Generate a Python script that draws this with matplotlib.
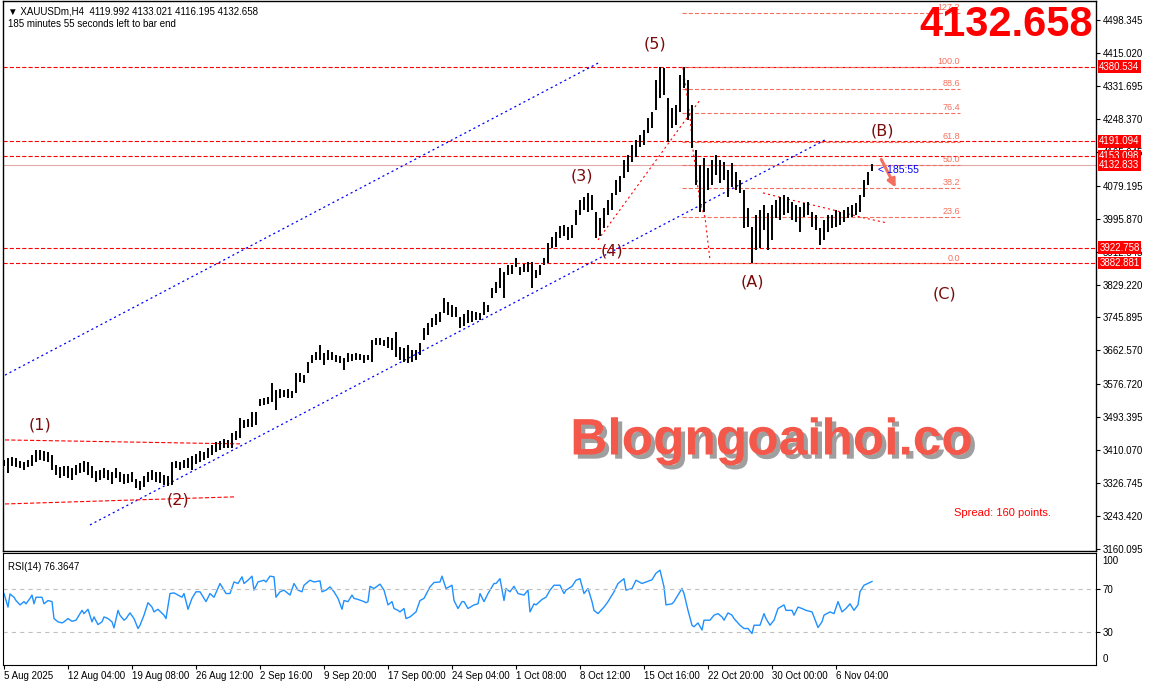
import matplotlib
matplotlib.use("Agg")
import matplotlib.pyplot as plt
import matplotlib.patheffects as pe
import matplotlib.transforms as mtrans
import numpy as np

plt.rcParams['font.family'] = ['Liberation Sans', 'DejaVu Sans']
plt.rcParams['lines.scale_dashes'] = False

# ---- price data (one bar = two H4 candles) ----
highs = [
    3385, 3390, 3393, 3390, 3383, 3380, 3385, 3398, 3411, 3411,
    3408, 3405, 3398, 3373, 3368, 3370, 3370, 3365, 3373, 3378,
    3383, 3380, 3370, 3357, 3360, 3365, 3360, 3355, 3365, 3355,
    3350, 3350, 3355, 3337, 3332, 3345, 3355, 3360, 3355, 3355,
    3347, 3345, 3380, 3383, 3380, 3385, 3390, 3395, 3400, 3408,
    3405, 3416, 3423, 3431, 3433, 3438, 3436, 3454, 3459, 3492,
    3486, 3489, 3507, 3507, 3540, 3542, 3545, 3580, 3562, 3565,
    3562, 3565, 3560, 3605, 3605, 3600, 3633, 3651, 3658, 3676,
    3656, 3664, 3658, 3651, 3648, 3643, 3656, 3653, 3656, 3653,
    3651, 3651, 3689, 3694, 3694, 3689, 3696, 3694, 3709, 3671,
    3669, 3676, 3664, 3664, 3681, 3719, 3732, 3745, 3755, 3760,
    3795, 3785, 3777, 3772, 3747, 3755, 3765, 3762, 3760, 3757,
    3785, 3777, 3820, 3836, 3871, 3861, 3879, 3879, 3896, 3874,
    3881, 3886, 3886, 3866, 3879, 3896, 3934, 3949, 3962, 3977,
    3980, 3975, 3980, 4018, 4043, 4051, 4061, 4056, 4013, 3998,
    4023, 4043, 4061, 4094, 4104, 4144, 4157, 4182, 4195, 4208,
    4220, 4251, 4266, 4347, 4380, 4377, 4301, 4276, 4283, 4359,
    4380, 4347, 4283, 4170, 4132, 4149, 4124, 4144, 4157, 4144,
    4139, 4119, 4137, 4114, 4094, 4068, 4023, 3975, 4005, 4018,
    4030, 4010, 4030, 4043, 4051, 4056, 4051, 4038, 4030, 4025,
    4035, 4038, 4013, 4005, 3972, 3992, 4005, 4005, 4018, 4013,
    4018, 4025, 4030, 4035, 4056, 4094, 4114, 4134]
lows = [
    3370, 3352, 3370, 3368, 3365, 3360, 3368, 3370, 3380, 3385,
    3383, 3380, 3360, 3347, 3340, 3345, 3340, 3335, 3347, 3352,
    3355, 3347, 3340, 3330, 3335, 3340, 3335, 3325, 3340, 3330,
    3325, 3327, 3330, 3314, 3309, 3317, 3330, 3335, 3330, 3327,
    3322, 3319, 3322, 3365, 3360, 3365, 3365, 3360, 3375, 3380,
    3385, 3390, 3398, 3405, 3411, 3416, 3416, 3416, 3436, 3441,
    3466, 3469, 3469, 3474, 3522, 3524, 3527, 3532, 3512, 3542,
    3545, 3542, 3542, 3555, 3583, 3580, 3605, 3631, 3638, 3638,
    3626, 3638, 3638, 3633, 3631, 3613, 3633, 3636, 3638, 3638,
    3631, 3638, 3633, 3676, 3676, 3674, 3669, 3664, 3646, 3638,
    3633, 3631, 3633, 3638, 3651, 3689, 3701, 3722, 3727, 3734,
    3757, 3752, 3747, 3747, 3719, 3724, 3732, 3734, 3739, 3739,
    3752, 3760, 3795, 3808, 3820, 3795, 3853, 3856, 3874, 3853,
    3861, 3861, 3820, 3846, 3853, 3879, 3884, 3922, 3924, 3947,
    3952, 3942, 3947, 3980, 4005, 4018, 4013, 4018, 3947, 3952,
    3972, 4005, 4018, 4056, 4063, 4099, 4114, 4139, 4152, 4177,
    4182, 4213, 4225, 4271, 4301, 4309, 4190, 4225, 4233, 4266,
    4326, 4245, 4175, 4081, 4013, 4013, 4068, 4081, 4106, 4086,
    4094, 4051, 4076, 4068, 4061, 3972, 3975, 3883, 3917, 3922,
    3967, 3917, 3942, 3998, 3992, 4005, 4010, 3992, 3987, 3962,
    4000, 4005, 3975, 3967, 3929, 3942, 3962, 3972, 3975, 3980,
    3987, 3998, 4000, 4005, 4013, 4051, 4081, 4116]

# RSI(14): (H4 bar index, value)
rsi_bar = [0, 2, 3, 5, 6, 8, 10, 11, 13, 14, 15, 16, 19, 20, 22, 24, 25, 27, 29, 30,
           32, 34, 36, 39, 40, 42, 44, 45, 47, 49, 50, 52, 54, 55, 57, 58, 60, 61, 63, 65,
           67, 68, 70, 72, 74, 75, 77, 80, 81, 83, 85, 87, 89, 90, 92, 94, 96, 98, 100, 101,
           103, 105, 108, 110, 111, 113, 115, 117, 119, 120, 122, 124, 125, 127, 130, 131, 133, 135, 136, 138,
           140, 143, 145, 147, 149, 150, 153, 155, 158, 159, 161, 163, 165, 167, 169, 170, 172, 174, 175, 177,
           180, 181, 182, 183, 185, 188, 190, 192, 194, 195, 197,
           198, 200, 201, 203, 205, 206, 208, 210, 213, 215, 218, 219, 221, 224, 225, 227, 229, 230, 232, 235,
           237, 238, 240, 242, 245, 246, 248, 250, 251, 253, 255, 257, 260, 262, 263, 265, 266, 269, 271, 273,
           275, 278, 280, 281, 284, 286, 288, 290, 292, 294, 295, 297, 300, 302, 305, 307, 310, 311, 314, 316,
           319, 321, 324, 326, 328, 330, 331, 334, 335, 337, 339, 340, 342, 344, 345, 347, 349, 350, 353, 355,
           357, 359, 360, 362, 364, 365, 368, 370, 372, 374, 375, 378, 380, 381, 383, 385, 387, 390, 391, 394,
           395, 397, 399, 401, 404, 405, 407, 409, 410, 413, 415, 417, 419, 421, 423, 425, 427, 428, 430, 434]
rsi_val = [65.4, 53, 65, 62, 59, 55, 58, 56, 61, 64, 56, 62, 62, 56, 59, 58, 42.5, 39.5, 38.5, 39.5,
           42.5, 40, 41, 50, 47, 51, 39.5, 44, 37, 39.5, 44, 42.5, 39.5, 34, 50, 45.5, 41, 42.5, 47.7, 42.5,
           33.4, 36.4, 45.6, 57, 53, 48.6, 51, 45.6, 42.5, 65.4, 66, 64, 62, 65.4, 51, 61, 67, 67, 61, 58,
           65.4, 62, 74.6, 68.5, 65.4, 65.4, 76, 74.6, 80.7, 74.6, 77.6, 81.3, 68.5, 76, 77.6, 76, 81.3, 80.7, 62, 67,
           68.5, 64, 74.6, 68.5, 67, 73, 77.6, 76, 77, 67, 68.5, 71.5, 67, 61, 51, 59, 58, 64, 61, 60,
           58, 57, 58, 72, 70, 74, 68.5, 55, 58, 51.7, 50,
           48.6, 51.7, 42.5, 44, 47, 48.6, 59, 61, 71.5, 75.5, 76, 81.3, 70, 73, 59, 51.7, 58, 58, 51.7, 55,
           56, 65.4, 58, 65.4, 74.6, 74.6, 79, 59, 70, 67, 72, 65.4, 64, 68.5, 48.6, 56, 55, 60, 62, 68.5,
           73, 73, 65.4, 68.5, 72, 77.6, 79, 65.4, 70, 58, 50, 47, 53, 58, 67, 74.6, 79, 68.5, 70, 77.6,
           74.6, 76, 78, 84, 86.8, 71.5, 55, 56, 58, 64, 70, 65.4, 50, 36.4, 35, 38.5, 32, 41, 41, 45.6,
           47, 44, 41, 47.7, 45.6, 42.5, 36.4, 33.4, 33.4, 28.8, 36.4, 36.4, 47, 42.5, 36.4, 41, 51.7, 55, 50, 50,
           45.6, 53, 51.7, 50, 48.6, 44, 34.3, 39.5, 45.6, 48.6, 47, 58, 48.6, 51.7, 56, 50, 55, 67, 73, 76.4]

price_ticks = [4498.345, 4415.020, 4331.695, 4248.370, 4165.045, 4079.195, 3995.870,
               3912.545, 3829.220, 3745.895, 3662.570, 3576.720, 3493.395, 3410.070,
               3326.745, 3243.420, 3160.095]
date_labels = ["5 Aug 2025", "12 Aug 04:00", "19 Aug 08:00", "26 Aug 12:00", "2 Sep 16:00",
               "9 Sep 20:00", "17 Sep 00:00", "24 Sep 04:00", "1 Oct 08:00", "8 Oct 12:00",
               "15 Oct 16:00", "22 Oct 20:00", "30 Oct 00:00", "6 Nov 04:00"]
hlines = [4380.534, 4191.094, 4153.098, 3922.758, 3882.881]
red_labels = [4380.534, 4191.094, 4153.098, 4132.833, 3922.758, 3882.881]
bid = 4132.658
fib_high, fib_low = 4380.534, 3882.881
fib_ratios = [0.0, 23.6, 38.2, 50.0, 61.8, 76.4, 88.6, 100.0, 127.2]
fib_from, fib_to = 339, 478

# trend / wave lines (bar index, price)
blue_upper = ([0.5, 298], [3600, 4392])
blue_lower = ([43, 410.5], [3221, 4195])
w1_top = ([0.5, 118], [3436, 3426])
w1_bottom = ([0.5, 115.5], [3274, 3292])
w4_line = ([297, 348], [3942, 4296])
drop_line = ([339.5, 343, 344.5, 348, 350.5, 353], [4377, 4253, 4170, 4035, 4000, 3891])
tri_line = ([379.5, 389.5, 398, 414.5, 428, 441.5], [4061, 4048, 4038, 4018, 4000, 3985])
waves = ["(1)", "(2)", "(3)", "(4)", "(5)", "(A)", "(B)", "(C)"]
wave_bar = [18, 87, 289, 304, 325.5, 374, 439, 470]
wave_price = [3474, 3284, 4104, 3914, 4438, 3835, 4217, 3805]

W, H = 1149, 690
fig = plt.figure(figsize=(W / 100, H / 100), dpi=100)
ax = fig.add_axes([3 / W, (H - 551) / H, 1093 / W, 550 / H])
rsi_ax = fig.add_axes([3 / W, (H - 665) / H, 1093 / W, 112 / H])

bars = np.arange(len(highs)) * 2
ax.vlines(bars, lows, highs, color='black', lw=1.4, zorder=3)

dash = (0, (3.0, 1.5))
dot = (0, (1.5, 2.2))
for lv in hlines:
    ax.axhline(lv, color='#FF0000', lw=0.8, ls=dash, zorder=2)
ax.axhline(bid, color='#E0A8A8', lw=0.8, zorder=2)

for r in fib_ratios:
    lv = fib_low + (fib_high - fib_low) * r / 100
    ax.plot([fib_from, fib_to], [lv, lv], color='#F4705E', lw=0.8, ls=dash, zorder=2)
    ax.text(fib_to, lv + 2, f"{r:.1f}", color='#F4705E', fontsize=6.5, ha='right', va='bottom')

ax.plot(*blue_upper, color='#0000FF', lw=0.9, ls=dot)
ax.plot(*blue_lower, color='#0000FF', lw=0.9, ls=dot)
for ln in (w1_top, w1_bottom):
    ax.plot(*ln, color='#FF0000', lw=0.8, ls=dash)
for ln in (w4_line, drop_line, tri_line):
    ax.plot(*ln, color='#FF0000', lw=0.8, ls=dot)

for t, b, p in zip(waves, wave_bar, wave_price):
    ax.text(b, p, t, color='#7A0A0A', fontsize=11.5, ha='center', va='center',
            family=['DejaVu Sans'])

ax.annotate("", xy=(446.5, 4068), xytext=(438, 4152),
            arrowprops=dict(arrowstyle='-|>', color='#F4705E', lw=2.2, mutation_scale=12),
            path_effects=[pe.SimplePatchShadow(offset=(1.5, -1.5), alpha=0.5), pe.Normal()])
ax.text(437, 4119, "< 185:55", color='#0000FF', fontsize=7.5, ha='left', va='center')

ax.set_xlim(-0.5, 546)
ax.set_ylim(3155, 4546.5)
ax.yaxis.tick_right()
ax.set_yticks(price_ticks)
ax.set_yticklabels([f"{v:.3f}" for v in price_ticks])
ax.tick_params(axis='y', labelsize=7, length=3, pad=2, width=0.8)
ax.set_xticks([])
for s in ax.spines.values():
    s.set_linewidth(1)

tr = mtrans.blended_transform_factory(ax.transAxes, ax.transData)
for lv in red_labels:
    ax.text(1.003, lv, f"{lv:.3f}", transform=tr, color='white', fontsize=7, ha='left', va='center',
            bbox=dict(boxstyle='square,pad=0.12', fc='#FF0000', ec='none'), clip_on=False, zorder=5)

ax.text(0.87, 0.069, "Spread: 160 points.", transform=ax.transAxes, color='#FF0000', fontsize=8,
        ha='left', va='center')
ax.text(0.519, 0.20, "Blogngoaihoi.co", transform=ax.transAxes, color='#F4584A', fontsize=37,
        fontweight='bold', ha='left', va='center', zorder=6,
        path_effects=[pe.SimplePatchShadow(offset=(3, -3), shadow_rgbFace='#404040', alpha=0.5), pe.Normal()])

# RSI panel
rsi_ax.plot(rsi_bar, rsi_val, color='#1E90FF', lw=1.0)
for lv in (70, 30):
    rsi_ax.axhline(lv, color='#C0C0C0', lw=0.8, ls=(0, (3, 3)))
rsi_ax.set_xlim(-0.5, 546)
rsi_ax.set_ylim(0, 102.5)
rsi_ax.yaxis.tick_right()
rsi_ax.set_yticks([70, 30])
rsi_ax.tick_params(axis='y', labelsize=7, length=3, pad=2, width=0.8)
rtr = mtrans.blended_transform_factory(rsi_ax.transAxes, rsi_ax.transData)
rsi_ax.text(1.003 + 3 / 1093, 100, "100", transform=rtr, fontsize=7, ha='left', va='top')
rsi_ax.text(1.003 + 3 / 1093, 1, "0", transform=rtr, fontsize=7, ha='left', va='bottom')
rsi_ax.set_xticks(np.arange(len(date_labels)) * 32)
rsi_ax.set_xticklabels(date_labels, ha='left')
rsi_ax.tick_params(axis='x', labelsize=7, length=3, pad=1, width=0.8)
rsi_ax.text(0.005, 0.92, "RSI(14) 76.3647", transform=rsi_ax.transAxes, fontsize=7, va='top')

fig.text(8 / W, 1 - 11 / H, "\u25BC XAUUSDm,H4  4119.992 4133.021 4116.195 4132.658", fontsize=7, va='center')
fig.text(8 / W, 1 - 24 / H, "185 minutes 55 seconds left to bar end", fontsize=7, va='center')
fig.text(1093 / W, 1 - 25 / H, "4132.658", color='#FF0000', fontsize=30, fontweight='bold',
         ha='right', va='center')

fig.savefig("out.png", dpi=100)
